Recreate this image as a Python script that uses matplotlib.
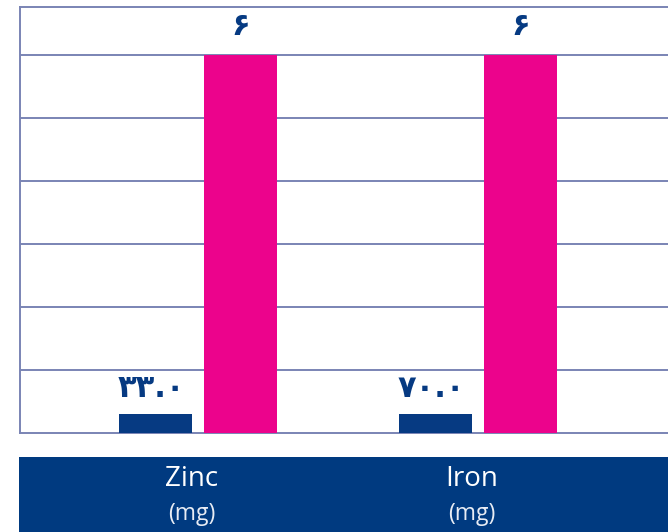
import matplotlib
matplotlib.use('Agg')
import matplotlib.pyplot as plt
import numpy as np

# categories and values
names = ['Zinc', 'Iron']
units = ['(mg)', '(mg)']
navy_vals = [0.3, 0.3]
pink_vals = [6, 6]
navy_labels = ['۳۳.۰', '۷۰.۰']
pink_labels = ['۶', '۶']

NAVY = '#063a82'
PINK = '#ec038c'
GRID = '#7a84b4'

fig = plt.figure(figsize=(6.68, 5.32), dpi=100)
ax = fig.add_axes([20/668, 99/532, 738/668, 426/532])

x = np.arange(len(names))
w = 0.26
off = 0.152
b1 = ax.bar(x - off, navy_vals, w, color=NAVY, zorder=3)
b2 = ax.bar(x + off, pink_vals, w, color=PINK, zorder=3)

for rect, lab in zip(b1, navy_labels):
    ax.annotate(lab, (rect.get_x() + rect.get_width()/2 - 0.015, rect.get_height()),
                xytext=(0, 8), textcoords='offset points', ha='center', va='bottom',
                fontsize=22, fontweight='bold', color=NAVY, family='DejaVu Sans')
for rect, lab in zip(b2, pink_labels):
    ax.annotate(lab, (rect.get_x() + rect.get_width()/2, rect.get_height()),
                xytext=(0, 10), textcoords='offset points', ha='center', va='bottom',
                fontsize=22, fontweight='bold', color=NAVY, family='DejaVu Sans')

ax.set_xlim(-0.636, 2.0)
ax.set_ylim(0, 6.76)
ax.set_yticks(range(1, 7))
ax.yaxis.grid(True, color=GRID, linewidth=1.4, zorder=0)
ax.set_xticks([])
ax.tick_params(axis='y', length=0, labelleft=False)
for s in ['left', 'top', 'bottom']:
    ax.spines[s].set_color(GRID)
    ax.spines[s].set_linewidth(1.4)
ax.spines['right'].set_visible(False)

# navy band with category names
band = fig.add_axes([19/668, 0, 739/668, 75/532])
band.set_facecolor('#003a80')
band.set_xlim(-0.636, 2.0)
band.set_ylim(0, 1)
band.set_xticks([])
band.set_yticks([])
for s in band.spines.values():
    s.set_visible(False)
for i, (n, u) in enumerate(zip(names, units)):
    band.text(x[i] - 0.02, 0.70, n, ha='center', va='center', color='white',
              fontsize=20, family='Open Sans')
    band.text(x[i] - 0.02, 0.24, u, ha='center', va='center', color='#e8ecf4',
              fontsize=16.5, family='Open Sans')

fig.savefig('out.png', dpi=100)
